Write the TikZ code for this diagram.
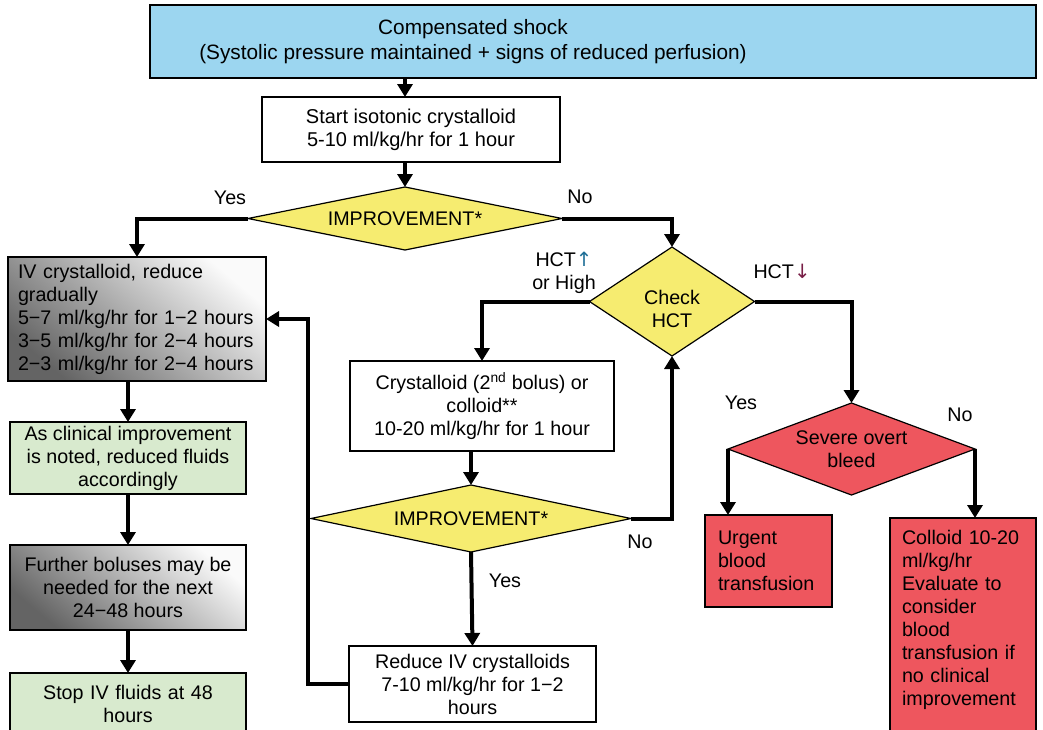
\documentclass[tikz,border=0pt]{standalone}
\usepackage{fontspec}
\setmainfont{Liberation Sans}
\newfontfamily\symfont{DejaVu Sans}
\usetikzlibrary{shapes.geometric,arrows.meta,calc}
\definecolor{blueC}{RGB}{156,214,240}
\definecolor{yelC}{RGB}{246,236,112}
\definecolor{redC}{RGB}{238,86,94}
\definecolor{greenC}{RGB}{216,234,206}
\definecolor{grayD}{RGB}{100,100,100}
\definecolor{grayL}{RGB}{250,250,250}
\definecolor{upC}{RGB}{30,110,150}
\definecolor{downC}{RGB}{120,30,70}
\begin{document}
\begin{tikzpicture}[x=1pt,y=-1pt,
  every node/.style={font=\fontsize{19.7}{23}\selectfont, outer sep=0pt},
  box/.style={draw=black, line width=1.2pt, rectangle, inner sep=0pt, align=center},
  gbox/.style={box, left color=grayD, right color=grayL, shading angle=140},
  dia/.style={draw=black, line width=1.2pt, diamond, inner sep=0pt, align=center, fill=yelC},
  arr/.style={line width=4pt, -{Triangle[length=13pt,width=15pt]}},
  lbl/.style={inner sep=0pt, align=center},
]
\clip (0,0) rectangle (1043,729);
\fill[white] (0,0) rectangle (1043,729);

\node[box, fill=blueC, minimum width=886pt, minimum height=73pt,
  font=\fontsize{20.8}{25}\selectfont] (top) at (593,41.5)
  {\raisebox{2pt}{\begin{tabular}{@{}c@{}}Compensated shock\\(Systolic pressure maintained + signs of reduced perfusion)\end{tabular}}\hspace{240pt}};
\node[box, minimum width=298pt, minimum height=65pt, font=\fontsize{20}{23}\selectfont] (start) at (411,129.5)
  {Start isotonic crystalloid\\5-10 ml/kg/hr for 1 hour};
\node[dia, shape aspect=5, minimum width=314pt, minimum height=63pt] (imp1) at (405,218.5) {IMPROVEMENT*};
\node[dia, shape aspect=1.5, minimum width=165pt, minimum height=109pt,
  text height=51pt, text depth=0pt] (hct) at (672,301.5) {Check\\HCT};
\node[box, minimum width=264pt, minimum height=90pt] (cryst) at (482,406)
  {Crystalloid (2\textsuperscript{nd} bolus) or\\colloid**\\10-20 ml/kg/hr for 1 hour};
\node[dia, shape aspect=4.8, minimum width=320pt, minimum height=67pt] (imp2) at (471,518.5) {IMPROVEMENT*};
\node[box, minimum width=247pt, minimum height=76pt] (reduce) at (472.5,684)
  {Reduce IV crystalloids\\7-10 ml/kg/hr for 1\textminus2\\hours};
\node[gbox, minimum width=258pt, minimum height=124pt, text width=238pt, inner xsep=10pt, align=left] (iv) at (137,319)
  {IV crystalloid, reduce\\gradually\\5\textminus7 ml/kg/hr for 1\textminus2 hours\\3\textminus5 ml/kg/hr for 2\textminus4 hours\\2\textminus3 ml/kg/hr for 2\textminus4 hours};
\node[box, fill=greenC, minimum width=236pt, minimum height=72pt] (green1) at (128,458)
  {As clinical improvement\\is noted, reduced fluids\\accordingly};
\node[gbox, minimum width=236pt, minimum height=85pt] (gray2) at (128,587.5)
  {Further boluses may be\\needed for the next\\24\textminus48 hours};
\node[box, fill=greenC, anchor=north, minimum width=236pt, inner ysep=11pt, inner xsep=8pt,
  text width=220pt, text height=15pt, text depth=70pt] (stop) at (128,673)
  {Stop IV fluids at 48\\hours};
\node[dia, fill=redC, shape aspect=2.7, minimum width=247pt, minimum height=92pt] (sev) at (851.5,449) {Severe overt\\bleed};
\node[box, fill=redC, minimum width=127pt, minimum height=92pt, text width=101pt, align=left] (urgent) at (768.5,561)
  {Urgent\\blood\\transfusion};
\node[box, fill=redC, anchor=north, minimum width=146pt, inner ysep=11pt, text width=122pt,
  align=left, text height=15pt, text depth=240pt] (colloid) at (963,518)
  {Colloid 10-20\\ml/kg/hr\\Evaluate to\\consider\\blood\\transfusion if\\no clinical\\improvement};

\coordinate (loop) at (308,319);
\draw[arr] (imp1.north |- top.south) -- (imp1.north |- start.north);
\draw[arr] (imp1.north |- start.south) -- (imp1.north);
\draw[arr] (imp1.west) -| (iv.north);
\draw[arr] (imp1.east) -| (hct.north);
\draw[arr] (hct.west) -| (cryst.north);
\draw[arr] (hct.east) -| (sev.north);
\draw[arr] (imp2.north |- cryst.south) -- (imp2.north);
\draw[arr] (imp2.east) -| (hct.south);
\draw[arr] (imp2.south) -- (reduce.north);
\draw[arr] (reduce.west) -| (loop) -- (iv.east);
\draw[arr] (green1.north |- iv.south) -- (green1.north);
\draw[arr] (green1.south) -- (gray2.north);
\draw[arr] (gray2.south) -- (stop.north);
\draw[arr] (sev.west) -- (sev.west |- urgent.north);
\draw[arr] (sev.east) -- (sev.east |- colloid.north);

\node[lbl] (yes1) at (230,198) {Yes};
\node[lbl] (no1) at (580,197) {No};
\node[lbl] (hctup) at (564,273) {HCT{\symfont\color{upC}↑}\\or High};
\node[lbl] (hctdown) at (782,271) {HCT{\symfont\color{downC}↓}};
\node[lbl] (yes2) at (741,403) {Yes};
\node[lbl] (no2) at (960,415) {No};
\node[lbl] (no3) at (640,542) {No};
\node[lbl] (yes3) at (505,581) {Yes};
\end{tikzpicture}
\end{document}
